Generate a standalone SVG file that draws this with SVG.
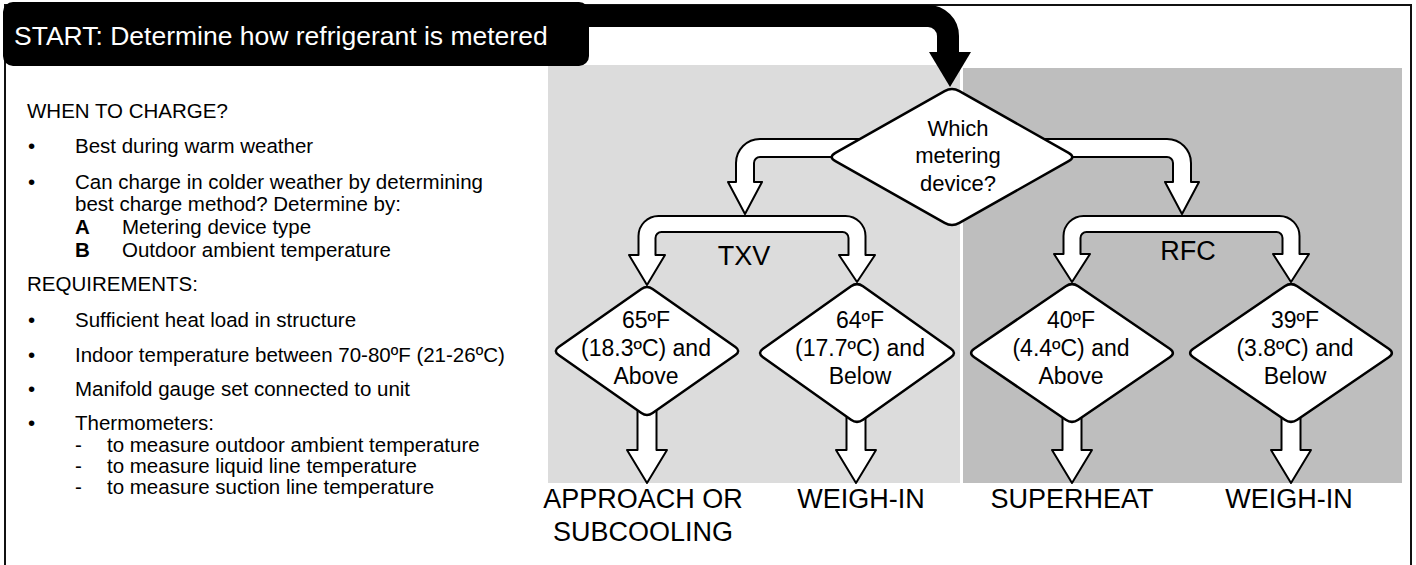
<svg xmlns="http://www.w3.org/2000/svg" width="1416" height="565" viewBox="0 0 1416 565">
<style>
.t{font-family:"Liberation Sans",Arial,Helvetica,sans-serif;fill:#000}
.lt{font-size:20.5px}
.dt{font-size:23px;text-anchor:middle}
.bt{font-size:27px;text-anchor:middle}
.hol{fill:#fff;stroke:#000;stroke-width:2;stroke-linejoin:round}
.dia{fill:#fff;stroke:#000;stroke-width:2.5;stroke-linejoin:round}
</style>
<rect x="0" y="0" width="1416" height="565" fill="#fff"/>
<g id="panels">
<rect x="548" y="65" width="412" height="418" fill="#dcdcdc"/>
<rect x="963" y="68" width="439" height="415" fill="#bebebe"/>
</g>
<rect id="frame" x="5" y="5" width="1406" height="600" fill="none" stroke="#111" stroke-width="2"/>
<g id="header">
<rect x="3" y="2" width="586" height="64" rx="10" fill="#000"/>
<text class="t" x="14" y="45" font-size="26.5" style="fill:#fff">START: Determine how refrigerant is metered</text>
</g>
<g id="notes" class="t lt">
<text x="27" y="118">WHEN TO CHARGE?</text>
<text x="28" y="153">•</text><text x="75" y="153">Best during warm weather</text>
<text x="28" y="189">•</text><text x="75" y="189">Can charge in colder weather by determining</text>
<text x="75" y="211">best charge method? Determine by:</text>
<text x="75" y="234" font-weight="bold">A</text><text x="122" y="234">Metering device type</text>
<text x="75" y="257" font-weight="bold">B</text><text x="122" y="257">Outdoor ambient temperature</text>
<text x="27" y="291">REQUIREMENTS:</text>
<text x="28" y="327">•</text><text x="75" y="327">Sufficient heat load in structure</text>
<text x="28" y="362">•</text><text x="75" y="362">Indoor temperature between 70-80ºF (21-26ºC)</text>
<text x="28" y="396">•</text><text x="75" y="396">Manifold gauge set connected to unit</text>
<text x="28" y="430">•</text><text x="75" y="430">Thermometers:</text>
<text x="75" y="452">-</text><text x="107" y="452">to measure outdoor ambient  temperature</text>
<text x="75" y="473">-</text><text x="107" y="473">to measure liquid line temperature</text>
<text x="75" y="494">-</text><text x="107" y="494">to measure suction line temperature</text>
</g>
<g id="connectors">
<path d="M580 16 H928 A20 20 0 0 1 948 36 V56" fill="none" stroke="#000" stroke-width="22"/>
<polygon points="929,52 971,52 950,87" fill="#000"/>
<path class="hol" d="M880 139 H760 A24 24 0 0 0 736 163 V182 H728 L745 214 L762 182 H754 V163 A6 6 0 0 1 760 157 H880 Z"/>
<path class="hol" d="M1030 139 H1167 A24 24 0 0 1 1191 163 V182 H1199 L1182 214 L1165 182 H1173 V163 A6 6 0 0 0 1167 157 H1030 Z"/>
<path class="hol" d="M745 216 H658.5 A20 20 0 0 0 638.5 236 V255 H629 L647 285 L665 255 H655.5 V238 A6 6 0 0 1 661.5 232 H842.5 A6 6 0 0 1 848.5 238 V255 H839 L857 282 L875 255 H865.5 V236 A20 20 0 0 0 845.5 216 Z"/>
<path class="hol" d="M1182 216 H1083.5 A20 20 0 0 0 1063.5 236 V254 H1054 L1072 282 L1090 254 H1080.5 V238 A6 6 0 0 1 1086.5 232 H1276.5 A6 6 0 0 1 1282.5 238 V254 H1273 L1291 282 L1309 254 H1299.5 V236 A20 20 0 0 0 1279.5 216 Z"/>
<path class="hol" d="M637.5 400 V450 H627 L647 483 L667 450 H656.5 V400 Z"/>
<path class="hol" d="M846.5 405 V450 H836 L856 483 L876 450 H865.5 V405 Z"/>
<path class="hol" d="M1062.5 405 V450 H1052 L1072 483 L1092 450 H1081.5 V405 Z"/>
<path class="hol" d="M1281.5 405 V450 H1271 L1291 483 L1311 450 H1300.5 V405 Z"/>
<text class="t" x="744" y="265" font-size="27" text-anchor="middle">TXV</text>
<text class="t" x="1188" y="260" font-size="27" text-anchor="middle">RFC</text>
</g>
<g id="which">
<path class="dia" d="M835.4,152.8 L944.6,91.2 Q952,87 959.4,91.2 L1068.6,152.8 Q1076,157 1068.6,161.2 L959.4,222.8 Q952,227 944.6,222.8 L835.4,161.2 Q828,157 835.4,152.8 Z"/>
<text class="t" x="958" y="136" font-size="22" text-anchor="middle">Which</text>
<text class="t" x="958" y="163" font-size="22" text-anchor="middle">metering</text>
<text class="t" x="958" y="191" font-size="22" text-anchor="middle">device?</text>
</g>
<g id="txv-above">
<path class="dia" d="M558.6,347 L641.4,289 Q647,285 652.6,289 L735.4,347 Q741,351 735.4,355 L652.6,413 Q647,417 641.4,413 L558.6,355 Q553,351 558.6,347 Z"/>
<text class="t dt" x="646" y="328">65ºF</text>
<text class="t dt" x="646" y="356">(18.3ºC) and</text>
<text class="t dt" x="646" y="384">Above</text>
</g>
<g id="txv-below">
<path class="dia" d="M763,348.74 L851,286.26 Q857,282 863,286.26 L951,348.74 Q957,353 951,357.26 L863,419.74 Q857,424 851,419.74 L763,357.26 Q757,353 763,348.74 Z"/>
<text class="t dt" x="860" y="328">64ºF</text>
<text class="t dt" x="860" y="356">(17.7ºC) and</text>
<text class="t dt" x="860" y="384">Below</text>
</g>
<g id="rfc-above">
<path class="dia" d="M974.24,348.74 L1065.76,286.26 Q1072,282 1078.24,286.26 L1169.76,348.74 Q1176,353 1169.76,357.26 L1078.24,419.74 Q1072,424 1065.76,419.74 L974.24,357.26 Q968,353 974.24,348.74 Z"/>
<text class="t dt" x="1071" y="328">40ºF</text>
<text class="t dt" x="1071" y="356">(4.4ºC) and</text>
<text class="t dt" x="1071" y="384">Above</text>
</g>
<g id="rfc-below">
<path class="dia" d="M1193.24,348.74 L1284.76,286.26 Q1291,282 1297.24,286.26 L1388.76,348.74 Q1395,353 1388.76,357.26 L1297.24,419.74 Q1291,424 1284.76,419.74 L1193.24,357.26 Q1187,353 1193.24,348.74 Z"/>
<text class="t dt" x="1295" y="328">39ºF</text>
<text class="t dt" x="1295" y="356">(3.8ºC) and</text>
<text class="t dt" x="1295" y="384">Below</text>
</g>
<g id="res-approach"><text class="t bt" x="643" y="508">APPROACH OR</text><text class="t bt" x="643" y="541">SUBCOOLING</text></g>
<g id="res-weigh1"><text class="t bt" x="861" y="508">WEIGH-IN</text></g>
<g id="res-superheat"><text class="t bt" x="1072" y="508">SUPERHEAT</text></g>
<g id="res-weigh2"><text class="t bt" x="1289" y="508">WEIGH-IN</text></g>
</svg>
